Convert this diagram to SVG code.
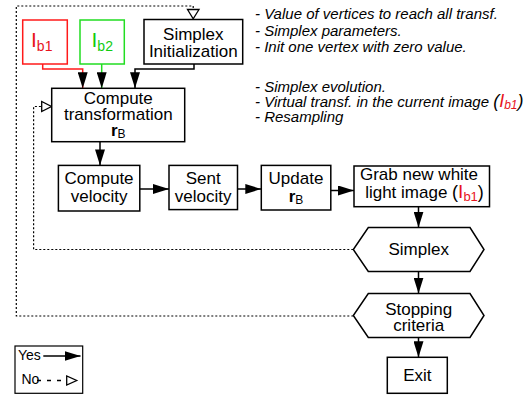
<svg xmlns="http://www.w3.org/2000/svg" width="532" height="396" viewBox="0 0 532 396">
<style>
text{font-family:"Liberation Sans",Arial,sans-serif;fill:#000}
.lbl{font-size:17px;text-anchor:middle}
.note{font-size:15px;font-style:italic}
.box{fill:#fff;stroke:#000;stroke-width:1.5}
.ln{fill:none;stroke:#000;stroke-width:1.5}
.dash{fill:none;stroke:#000;stroke-width:1.2;stroke-dasharray:2,2}
.tri{fill:#fff;stroke:#000;stroke-width:1.3}
.red{fill:#e8141c}
.grn{fill:#11cc11}
</style>
<defs>
<marker id="arr" markerUnits="userSpaceOnUse" markerWidth="16" markerHeight="10" refX="16" refY="5" orient="auto">
<path d="M0,0 L16,5 L0,10 z" fill="#000"/>
</marker>
</defs>

<g id="connectors">
<polyline class="ln" points="42.7,64 42.7,69 82.7,69 82.7,88.3" style="stroke:#ff1a1a" marker-end="url(#arr)"/>
<line class="ln" x1="101.7" y1="64" x2="101.7" y2="88.3" style="stroke:#22dd22" marker-end="url(#arr)"/>
<polyline class="ln" points="194,64 194,69 135,69 135,88.3" marker-end="url(#arr)"/>
<line class="ln" x1="100" y1="141.7" x2="100" y2="165.4" marker-end="url(#arr)"/>
<line class="ln" x1="139.8" y1="189" x2="169" y2="189" marker-end="url(#arr)"/>
<line class="ln" x1="237.5" y1="189" x2="261.3" y2="189" marker-end="url(#arr)"/>
<line class="ln" x1="330.8" y1="190.5" x2="354" y2="190.5" marker-end="url(#arr)"/>
<line class="ln" x1="418.5" y1="206.7" x2="418.5" y2="227.5" marker-end="url(#arr)"/>
<line class="ln" x1="418.5" y1="271.5" x2="418.5" y2="293.5" marker-end="url(#arr)"/>
<line class="ln" x1="418.5" y1="337.5" x2="418.5" y2="357.3" marker-end="url(#arr)"/>
<polyline class="dash" points="353.3,316 16.3,316 16.3,6 193.2,6 193.2,9.5"/>
<polygon class="tri" points="187.5,9.5 199,9.5 193.2,18.8"/>
<polyline class="dash" points="353.3,249.5 33.6,249.5 33.6,106.5 41.7,106.5"/>
<polygon class="tri" points="41.7,101.5 41.7,111.5 51.5,106.5"/>
</g>

<g id="ib1">
<rect x="22.7" y="20" width="44.6" height="44" fill="#fff" stroke="#ff1a1a" stroke-width="1.5"/>
<text x="31" y="46.7" font-size="21" class="red">I<tspan font-size="14" dy="4">b1</tspan></text>
</g>
<g id="ib2">
<rect x="80" y="20" width="44.3" height="44" fill="#fff" stroke="#22dd22" stroke-width="1.5"/>
<text x="91.5" y="46.7" font-size="21" class="grn">I<tspan font-size="14" dy="4">b2</tspan></text>
</g>
<g id="simplex-init">
<rect class="box" x="144" y="19.5" width="98.7" height="44.5"/>
<text class="lbl" x="193.3" y="39.5">Simplex</text>
<text class="lbl" x="193.3" y="57">Initialization</text>
</g>
<g id="compute-transformation">
<rect class="box" x="51.7" y="88.3" width="133" height="53.4"/>
<text class="lbl" x="118.3" y="103.5">Compute</text>
<text class="lbl" x="118.3" y="120">transformation</text>
<text class="lbl" x="118.3" y="135.5"><tspan font-weight="bold">r</tspan><tspan font-size="12" dy="2.5">B</tspan></text>
</g>
<g id="compute-velocity">
<rect class="box" x="58.4" y="165.4" width="81.4" height="45.6"/>
<text class="lbl" x="99.1" y="183.5">Compute</text>
<text class="lbl" x="99.1" y="201.5">velocity</text>
</g>
<g id="sent-velocity">
<rect class="box" x="169" y="165.4" width="68.5" height="44.2"/>
<text class="lbl" x="203.2" y="183.5">Sent</text>
<text class="lbl" x="203.2" y="201.5">velocity</text>
</g>
<g id="update">
<rect class="box" x="261.3" y="165.4" width="69.5" height="44.6"/>
<text class="lbl" x="296" y="183.5">Update</text>
<text class="lbl" x="296" y="201.5"><tspan font-weight="bold">r</tspan><tspan font-size="12" dy="2.5">B</tspan></text>
</g>
<g id="grab">
<rect class="box" x="354" y="166" width="135.5" height="40.7"/>
<text class="lbl" x="419" y="180">Grab new white</text>
<text class="lbl" x="424.5" y="198">light image <tspan font-size="18">(</tspan><tspan font-size="19" class="red">I</tspan><tspan font-size="13" class="red" dy="3">b1</tspan><tspan font-size="18" dy="-3">)</tspan></text>
</g>
<g id="simplex">
<polygon class="box" points="368.3,227.5 470,227.5 484,249.5 470,271.5 368.3,271.5 353.3,249.5"/>
<text class="lbl" x="418.7" y="254.5">Simplex</text>
</g>
<g id="stopping">
<polygon class="box" points="368.3,293.5 470,293.5 484,315.5 470,337.5 368.3,337.5 353.3,315.5"/>
<text class="lbl" x="418.7" y="314.5">Stopping</text>
<text class="lbl" x="418.7" y="331">criteria</text>
</g>
<g id="exit">
<rect class="box" x="387.3" y="357.3" width="60" height="36"/>
<text class="lbl" x="417.3" y="381">Exit</text>
</g>

<g id="notes">
<text class="note" x="255" y="19">- Value of vertices to reach all transf.</text>
<text class="note" x="255" y="35.5">- Simplex parameters.</text>
<text class="note" x="255" y="52">- Init one vertex with zero value.</text>
<text class="note" x="255" y="92">- Simplex evolution.</text>
<text class="note" x="255" y="107">- Virtual transf. in the current image <tspan font-size="18">(</tspan><tspan font-size="18" class="red">I</tspan><tspan font-size="12" class="red" dy="2">b1</tspan><tspan font-size="18" dy="-2">)</tspan></text>
<text class="note" x="255" y="122">- Resampling</text>
</g>

<g id="legend">
<rect x="15" y="346" width="67.7" height="47.3" fill="#fff" stroke="#000" stroke-width="1.2"/>
<text x="18" y="360" font-size="14">Yes</text>
<line class="ln" x1="43.3" y1="356" x2="80.5" y2="356" marker-end="url(#arr)"/>
<text x="21.5" y="384" font-size="14">No</text>
<line x1="37" y1="380.5" x2="66.7" y2="380.5" stroke="#000" stroke-width="1.3" stroke-dasharray="4,6"/>
<polygon class="tri" points="66.7,376 66.7,385 76.7,380.5"/>
</g>
</svg>
